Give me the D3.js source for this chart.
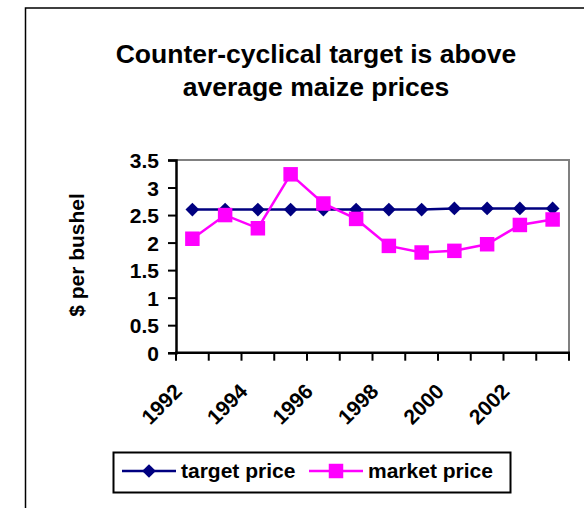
<!DOCTYPE html>
<html>
<head>
<meta charset="utf-8">
<script src="https://cdn.jsdelivr.net/npm/d3@7"></script>
<style>
  body { margin: 0; background: #fff; }
  text { font-family: Arial, "Liberation Sans", sans-serif; font-weight: bold; fill: #000; }
</style>
</head>
<body>
<script>
var width = 584,
    height = 508;

// data
var years = ["1992", "1993", "1994", "1995", "1996", "1997", "1998", "1999", "2000", "2001", "2002", "2003"];
var targetPrice = [2.60, 2.60, 2.60, 2.60, 2.60, 2.60, 2.60, 2.60, 2.62, 2.62, 2.62, 2.62];
var marketPrice = [2.07, 2.50, 2.26, 3.24, 2.71, 2.43, 1.94, 1.82, 1.85, 1.97, 2.32, 2.42];
var yTicks = [0, 0.5, 1, 1.5, 2, 2.5, 3, 3.5];
var yearLabels = ["1992", "1994", "1996", "1998", "2000", "2002"];
var seriesNames = ["target price", "market price"];

//plot area
var plotLeft = 176, plotRight = 569, plotTop = 160, plotBottom = 352.7;

var svg = d3.select("body")
    .append("svg")
    .attr("width", width)
    .attr("height", height);

// outer frame (only left and top visible)
svg.append("path")
    .attr("d", "M25.5," + height + "V8H" + width)
    .style("fill", "none")
    .style("stroke", "#000")
    .style("stroke-width", 1.5);

// title
var title = svg.append("text")
    .attr("text-anchor", "middle")
    .style("font-size", "26.5px");
title.append("tspan").attr("x", 316).attr("y", 63).text("Counter-cyclical target is above");
title.append("tspan").attr("x", 316).attr("y", 96).text("average maize prices");

var x = d3.scaleBand().domain(years).range([plotLeft, plotRight]).padding(0);
var y = d3.scaleLinear().domain([0, 3.5]).range([plotBottom, plotTop]);

// plot border top/right in gray
svg.append("path")
    .attr("d", "M" + plotLeft + "," + plotTop + "H" + plotRight + "V" + plotBottom)
    .style("fill", "none")
    .style("stroke", "#808080")
    .style("stroke-width", 2);

// y axis
var yAxis = svg.append("g")
    .attr("transform", "translate(" + plotLeft + ",0)")
    .call(d3.axisLeft(y).tickValues(yTicks).tickSize(8).tickPadding(9).tickFormat(d3.format("")));
yAxis.select(".domain").style("stroke", "#000").style("stroke-width", 2.5);
yAxis.selectAll(".tick line").style("stroke", "#000").style("stroke-width", 2);
yAxis.selectAll(".tick text")
    .attr("dy", "0.36em")
    .style("font-size", "21px")
    .style("font-family", "Arial, 'Liberation Sans', sans-serif")
    .style("font-weight", "bold");

// x axis: ticks on band edges
var xAxis = svg.append("g");
xAxis.append("line")
    .attr("x1", plotLeft - 1).attr("x2", plotRight + 1)
    .attr("y1", plotBottom).attr("y2", plotBottom)
    .style("stroke", "#000").style("stroke-width", 2.5);
xAxis.selectAll(".xtick")
    .data(years.concat(["end"]))
    .enter().append("line")
        .attr("class", "xtick")
        .attr("x1", function(d, i) { return plotLeft + i * x.bandwidth(); })
        .attr("x2", function(d, i) { return plotLeft + i * x.bandwidth(); })
        .attr("y1", plotBottom)
        .attr("y2", plotBottom + 8)
        .style("stroke", "#000")
        .style("stroke-width", 2);
xAxis.selectAll(".xlabel")
    .data(yearLabels)
    .enter().append("text")
        .attr("class", "xlabel")
        .attr("text-anchor", "end")
        .attr("transform", function(d) {
            return "translate(" + (x(d) + x.bandwidth() / 2 - 9) + "," + (plotBottom + 40) + ") rotate(-45)";
        })
        .style("font-size", "21px")
        .text(function(d) { return d; });

// y axis title
svg.append("text")
    .attr("text-anchor", "middle")
    .attr("transform", "translate(84,255) rotate(-90)")
    .style("font-size", "21px")
    .text("$ per bushel");

// lines
var line = d3.line()
    .x(function(d, i) { return x(years[i]) + x.bandwidth() / 2; })
    .y(function(d) { return y(d); });

svg.append("path")
    .datum(targetPrice)
    .attr("d", line)
    .style("fill", "none")
    .style("stroke", "#000080")
    .style("stroke-width", 2.5);

svg.append("path")
    .datum(marketPrice)
    .attr("d", line)
    .style("fill", "none")
    .style("stroke", "#ff00ff")
    .style("stroke-width", 2.5);

var diamond = d3.symbol().type(d3.symbolDiamond2).size(120);
var square = d3.symbol().type(d3.symbolSquare).size(210);

svg.selectAll(".tp")
    .data(targetPrice)
    .enter().append("path")
        .attr("class", "tp")
        .attr("d", diamond)
        .attr("transform", function(d, i) { return "translate(" + (x(years[i]) + x.bandwidth() / 2) + "," + y(d) + ")"; })
        .style("fill", "#000080");

svg.selectAll(".mp")
    .data(marketPrice)
    .enter().append("path")
        .attr("class", "mp")
        .attr("d", square)
        .attr("transform", function(d, i) { return "translate(" + (x(years[i]) + x.bandwidth() / 2) + "," + y(d) + ")"; })
        .style("fill", "#ff00ff");

// legend
var legend = svg.append("g");
legend.append("rect")
    .attr("x", 113.5).attr("y", 452.5)
    .attr("width", 397).attr("height", 40)
    .style("fill", "#fff")
    .style("stroke", "#000")
    .style("stroke-width", 2);

var legendItems = [
    {x1: 122, x2: 176, tx: 181, color: "#000080", sym: diamond},
    {x1: 309, x2: 363, tx: 368, color: "#ff00ff", sym: square}
];
legendItems.forEach(function(it, i) {
    legend.append("line")
        .attr("x1", it.x1).attr("x2", it.x2)
        .attr("y1", 471).attr("y2", 471)
        .style("stroke", it.color).style("stroke-width", 2.5);
    legend.append("path")
        .attr("d", it.sym)
        .attr("transform", "translate(" + ((it.x1 + it.x2) / 2) + ",471)")
        .style("fill", it.color);
    legend.append("text")
        .attr("x", it.tx).attr("y", 478)
        .style("font-size", "21px")
        .text(seriesNames[i]);
});
</script>
</body>
</html>
